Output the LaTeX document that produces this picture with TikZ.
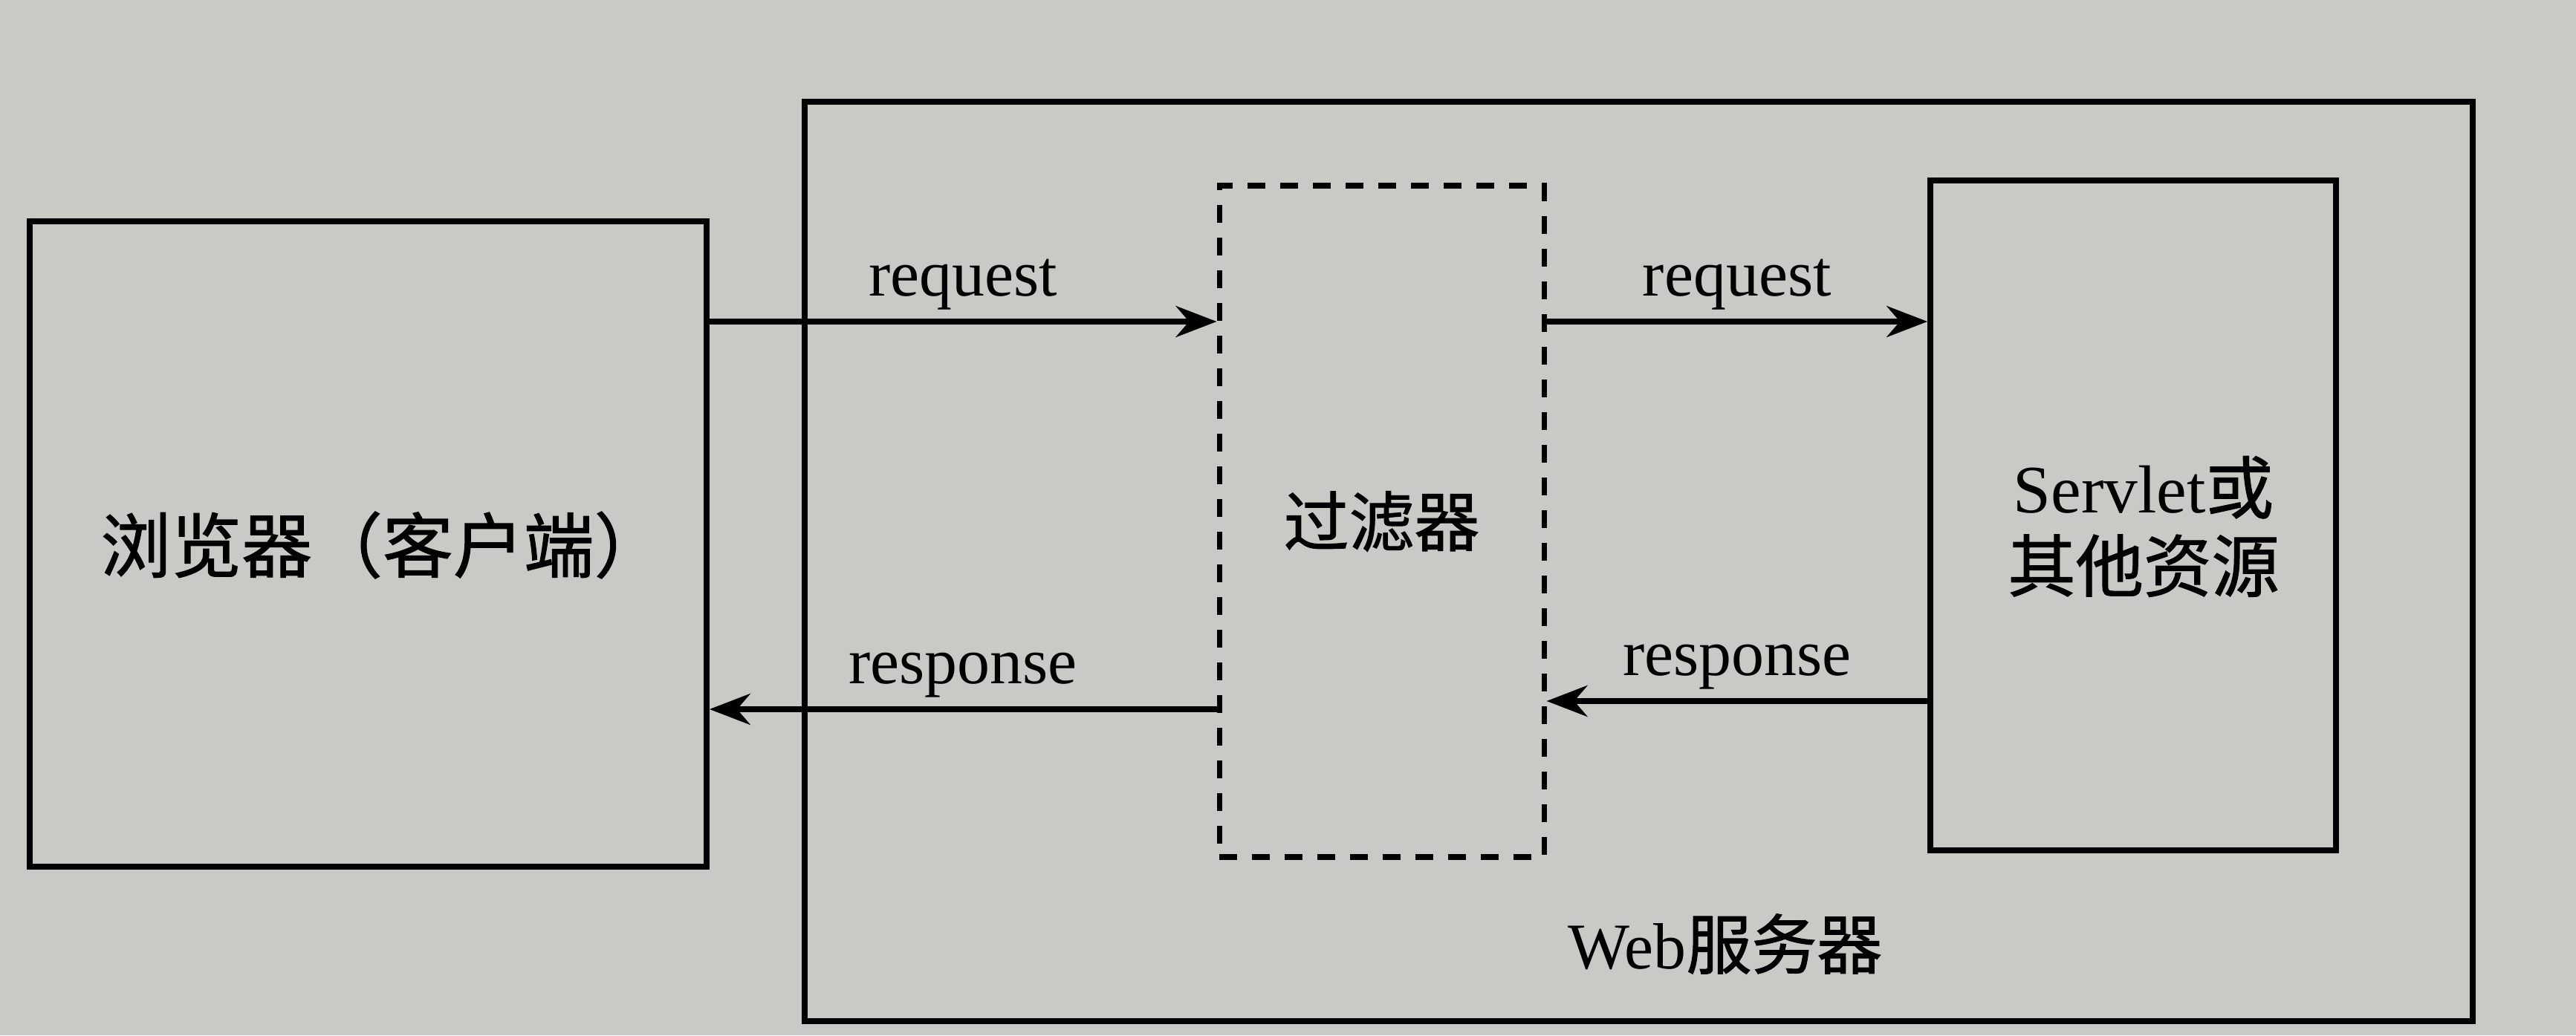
\documentclass[tikz,border=0pt]{standalone}
\usepackage{fontspec}
\setmainfont{Liberation Serif}
\newfontfamily\cjk{Noto Sans CJK SC}[FakeBold=1.2]
\usepackage{xcolor}
\usepackage{tikz}
\usetikzlibrary{arrows.meta, positioning, calc}
\definecolor{paper}{RGB}{201,201,197}
\tikzset{
  blk/.style={rectangle, draw=black, line width=2.2pt, inner sep=0pt,
              align=center, font=\fontsize{25}{29}\selectfont},
  flt/.style={blk, dash pattern=on 0.24cm off 0.2cm, line width=2pt},
  arc/.style={-{Stealth[length=0.55cm, width=0.42cm]}, line width=2pt},
  lbl/.style={font=\fontsize{25}{29}\selectfont, inner sep=2pt}
}
\begin{document}
\begin{tikzpicture}
  \fill[paper] (0,0) rectangle (34.67,13.94);
  \useasboundingbox (0,0) rectangle (34.67,13.94);
  % boxes
  \node[blk, minimum width=22.45cm, minimum height=12.38cm] (web) at (22.055,6.38) {};
  \node[blk, minimum width=9.11cm, minimum height=8.69cm] (browser) at (4.955,6.615) {};
  \node[lbl, font=\fontsize{27}{31}\selectfont] (browsername) at (5.15,6.6) {\cjk 浏览器（客户端）};
  \node[flt, minimum width=4.37cm, minimum height=9.04cm] (filter) at (18.595,6.92)
    {\cjk 过滤器};
  \node[blk, minimum width=5.46cm, minimum height=9.02cm] (servlet) at (28.71,7.0) {};
  \node[lbl, align=center, font=\fontsize{26}{30}\selectfont] (servletname) at (28.85,6.85)
    {Servlet{\cjk 或}\\{\cjk 其他资源}};
  \node[lbl] (webname) at (23.22,1.23) {Web{\cjk 服务器}};
  % arrows
  \coordinate (reqy) at (0,9.61);
  \coordinate (resl) at (0,4.39);
  \coordinate (resr) at (0,4.50);
  \draw[arc] (browser.east |- reqy) -- node[lbl, above=0.05cm] {request} (filter.west |- reqy);
  \draw[arc] (filter.east |- reqy) -- node[lbl, above=0.05cm] {request} (servlet.west |- reqy);
  \draw[arc] (servlet.west |- resr) -- node[lbl, above=0.05cm] {response} (filter.east |- resr);
  \draw[arc] (filter.west |- resl) -- node[lbl, above=0.05cm] {response} (browser.east |- resl);
\end{tikzpicture}
\end{document}
